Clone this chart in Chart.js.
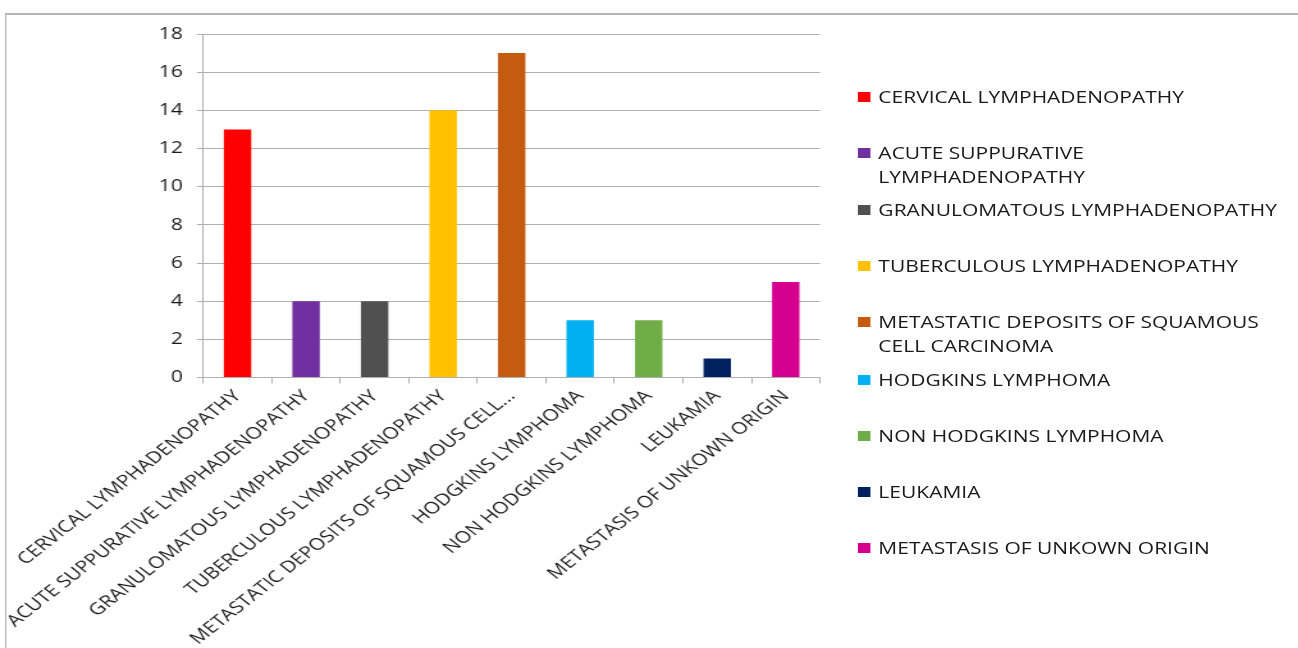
<!DOCTYPE html>
<html>
<head>
<meta charset="utf-8">
<script src="https://cdn.jsdelivr.net/npm/chart.js@4/dist/chart.umd.min.js"></script>
<style>
  html, body { margin: 0; padding: 0; background: #fff; overflow: hidden; }
  /* The whole figure is laid out on a 1014px-wide stage and widened to the window width */
  #stage { position: absolute; left: 0; top: 0; width: 1014px; height: 648px;
           transform: scaleX(1.28008); transform-origin: 0 0; }
  #frame { position: absolute; left: 4.4px; top: 13px; right: -20px; bottom: -20px;
           border-top: 2px solid #b4b4b4; border-left: 1.6px solid #b4b4b4; }
  #chart { position: absolute; left: 0; top: 0; }
  #legend { position: absolute; left: 0; top: 0; }
  .item { position: absolute; left: 670px; font: 16.4px 'Open Sans'; color: #1a1a1a; line-height: 23.5px; }
  .sw { position: absolute; left: 0; top: 7px; width: 9.5px; height: 9.5px; }
  .tx { position: absolute; left: 16.2px; top: 0; white-space: pre; }
</style>
</head>
<body>
<div id="stage">
  <div id="frame"></div>
  <canvas id="chart" width="1014" height="648"></canvas>
  <div id="legend"></div>
</div>
<script>
// Diagnoses (legend text) and the shorter labels printed under the axis
const categories = [
  'CERVICAL LYMPHADENOPATHY',
  'ACUTE SUPPURATIVE LYMPHADENOPATHY',
  'GRANULOMATOUS LYMPHADENOPATHY',
  'TUBERCULOUS LYMPHADENOPATHY',
  'METASTATIC DEPOSITS OF SQUAMOUS CELL CARCINOMA',
  'HODGKINS LYMPHOMA',
  'NON HODGKINS LYMPHOMA',
  'LEUKAMIA',
  'METASTASIS OF UNKOWN ORIGIN'
];
const axisLabels = [
  'CERVICAL LYMPHADENOPATHY',
  'ACUTE SUPPURATIVE LYMPHADENOPATHY',
  'GRANULOMATOUS LYMPHADENOPATHY',
  'TUBERCULOUS LYMPHADENOPATHY',
  'METASTATIC DEPOSITS OF SQUAMOUS CELL...',
  'HODGKINS LYMPHOMA',
  'NON HODGKINS LYMPHOMA',
  'LEUKAMIA',
  'METASTASIS OF UNKOWN ORIGIN'
];
// Number of cases per diagnosis
const cases = [13, 4, 4, 14, 17, 3, 3, 1, 5];
// Y axis range and step
const yMin = 0, yMax = 18, yStep = 2;

// Styling
const barColors = ['#FF0000', '#7030A0', '#505050', '#FFC000', '#C55A11',
                   '#00B0F0', '#70AD47', '#002060', '#D6008F'];
const W = 1014, H = 648;
const plotBox = { left: 158.8, right: 640.6, top: 34, bottom: 377.5 };
const legendRowCenters = [97, 153, 210, 266, 322, 380, 436, 492, 548];
// words kept on the first legend line before wrapping (0 = single line)
const legendFirstLineWords = [0, 2, 0, 0, 4, 0, 0, 0, 0];
const textColor = '#1a1a1a';
const lineColor = '#b0b0b0';
const font = { family: "'Open Sans'", size: 16.4 };

function buildLegend() {
  const box = document.getElementById('legend');
  categories.forEach((name, i) => {
    const item = document.createElement('div');
    item.className = 'item';
    item.style.top = (legendRowCenters[i] - 11.75) + 'px';
    const sw = document.createElement('div');
    sw.className = 'sw';
    sw.style.background = barColors[i];
    const tx = document.createElement('div');
    tx.className = 'tx';
    const words = name.split(' ');
    const n = legendFirstLineWords[i];
    tx.textContent = n ? words.slice(0, n).join(' ') + '\n' + words.slice(n).join(' ') : name;
    item.appendChild(sw);
    item.appendChild(tx);
    box.appendChild(item);
  });
}

function drawChart() {
  new Chart(document.getElementById('chart'), {
    type: 'bar',
    data: {
      labels: axisLabels,
      datasets: [{
        data: cases,
        backgroundColor: barColors,
        borderWidth: 0,
        barPercentage: 0.4,
        categoryPercentage: 1.0
      }]
    },
    options: {
      responsive: false,
      animation: false,
      layout: { padding: { left: 0, top: plotBox.top, right: W - plotBox.right, bottom: 0 } },
      plugins: { legend: { display: false }, tooltip: { enabled: false } },
      scales: {
        x: {
          grid: { offset: true, drawOnChartArea: false, drawTicks: true, tickLength: 6, color: lineColor },
          border: { color: lineColor, width: 1 },
          ticks: { autoSkip: false, minRotation: 45, maxRotation: 45, padding: 3, color: textColor, font: font },
          afterFit(scale) { scale.height = H - plotBox.bottom; }
        },
        y: {
          min: yMin, max: yMax,
          grid: { color: lineColor, tickLength: 5 },
          border: { color: lineColor, width: 1 },
          ticks: { stepSize: yStep, padding: 11, color: textColor, font: font },
          afterFit(scale) { scale.width = plotBox.left; }
        }
      }
    }
  });
}

buildLegend();
document.fonts.load("16.4px 'Open Sans'").then(drawChart, drawChart);
</script>
</body>
</html>
